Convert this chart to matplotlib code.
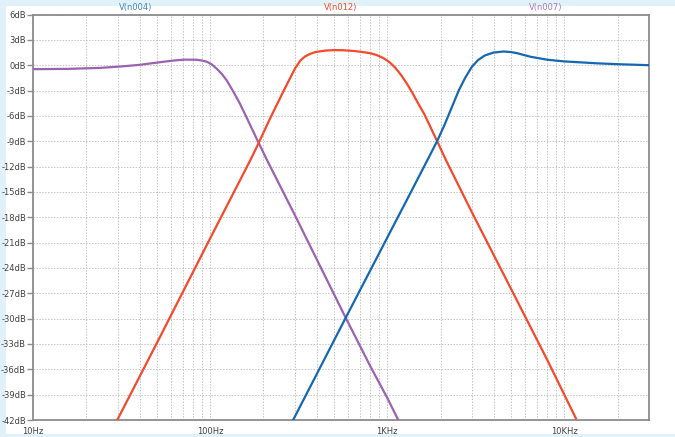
import matplotlib
matplotlib.use("Agg")
import matplotlib.pyplot as plt
from matplotlib.patches import Rectangle
from matplotlib.ticker import FixedLocator, NullFormatter

# V(n004) - paso bajo
purple_f = [10, 15.5, 24, 31, 40, 52, 62, 72, 84, 90, 96, 102, 110, 117, 124, 134, 146, 159, 171, 184, 209, 300, 420, 579, 800, 1000, 1153]
purple_db = [-0.47, -0.44, -0.32, -0.16, 0.04, 0.35, 0.55, 0.66, 0.64, 0.55, 0.4, 0.1, -0.5, -1.1, -1.8, -3.0, -4.4, -6.0, -7.4, -8.8, -11.2, -17.7, -23.9, -29.8, -35.6, -39.4, -42]

# V(n012) - paso banda
red_f = [29.9, 50, 100, 168, 185, 218, 259, 280, 302, 323, 344, 368, 392, 446, 500, 555, 646, 703, 801, 870, 953, 1030, 1109, 1200, 1300, 1396, 1500, 1618, 1843, 2150, 3000, 5000, 8000, 11600]
red_db = [-42, -32.9, -20.5, -11.3, -9.5, -6.3, -3.1, -1.7, -0.35, 0.55, 1.05, 1.35, 1.55, 1.73, 1.78, 1.78, 1.68, 1.6, 1.42, 1.2, 0.83, 0.35, -0.3, -1.2, -2.3, -3.4, -4.6, -5.8, -8.3, -11.3, -17.4, -26.5, -34.9, -41.8]

# V(n007) - paso alto
blue_f = [294, 579, 1000, 1400, 1910, 2100, 2300, 2530, 2750, 3000, 3250, 3550, 3987, 4542, 5000, 5404, 6425, 7980, 9910, 15300, 19860, 29900]
blue_db = [-42, -30, -20.4, -14.5, -9.0, -7.1, -5.1, -3.0, -1.5, -0.2, 0.6, 1.15, 1.5, 1.62, 1.55, 1.42, 1.0, 0.65, 0.45, 0.22, 0.12, 0.0]

y_ticks = [6, 3, 0, -3, -6, -9, -12, -15, -18, -21, -24, -27, -30, -33, -36, -39, -42]
y_labels = ["%ddB" % v for v in y_ticks]
x_ticks = [10, 100, 1000, 10000]
x_labels = ["10Hz", "100Hz", "1KHz", "10KHz"]

fig = plt.figure(figsize=(6.75, 4.37), dpi=100)
fig.patch.set_facecolor("#e1f1fa")
fig.patches.append(Rectangle((6 / 675, 3 / 437), 669 / 675, 428 / 437,
                             transform=fig.transFigure, facecolor="white",
                             edgecolor="none", zorder=-10))

ax = fig.add_axes([33 / 675, 17 / 437, 616 / 675, 405.5 / 437])
ax.set_facecolor("white")

ax.plot(purple_f, purple_db, color="#9a62b0", lw=1.6, zorder=3)
ax.plot(red_f, red_db, color="#f4492a", lw=1.6, zorder=3)
ax.plot(blue_f, blue_db, color="#1567b4", lw=1.6, zorder=3)

ax.set_xscale("log")
ax.set_xlim(10, 30000)
ax.set_ylim(-42, 6)

ax.xaxis.set_major_locator(FixedLocator(x_ticks))
ax.set_xticklabels(x_labels)
minors = [m * d for d in [10, 100, 1000, 10000] for m in range(2, 10) if m * d < 30000]
ax.xaxis.set_minor_locator(FixedLocator(minors))
ax.xaxis.set_minor_formatter(NullFormatter())
ax.set_yticks(y_ticks)
ax.set_yticklabels(y_labels)

# rejilla punteada clara
ax.grid(True, which="both", axis="x", color="#c4c4c4", lw=0.7, linestyle=(0, (1.5, 1.5)))
ax.grid(True, which="major", axis="y", color="#c4c4c4", lw=0.7, linestyle=(0, (1.5, 1.5)))

for s in ax.spines.values():
    s.set_color("#8c8c8c")
    s.set_linewidth(1.3)

ax.tick_params(axis="y", length=4, width=1, color="#8c8c8c", pad=1, labelsize=6, labelcolor="#404040")
ax.tick_params(axis="x", which="both", length=0, pad=5, labelsize=6, labelcolor="#404040")

# etiquetas de trazas arriba
fig.text(135.5 / 675, 1 - 7.5 / 437, "V(n004)", color="#3c86c6", fontsize=6, ha="center", va="center")
fig.text(341 / 675, 1 - 7.5 / 437, "V(n012)", color="#f4492a", fontsize=6, ha="center", va="center")
fig.text(545.5 / 675, 1 - 7.5 / 437, "V(n007)", color="#a47cb8", fontsize=6, ha="center", va="center")

plt.savefig("out.png", dpi=100, facecolor=fig.get_facecolor())
